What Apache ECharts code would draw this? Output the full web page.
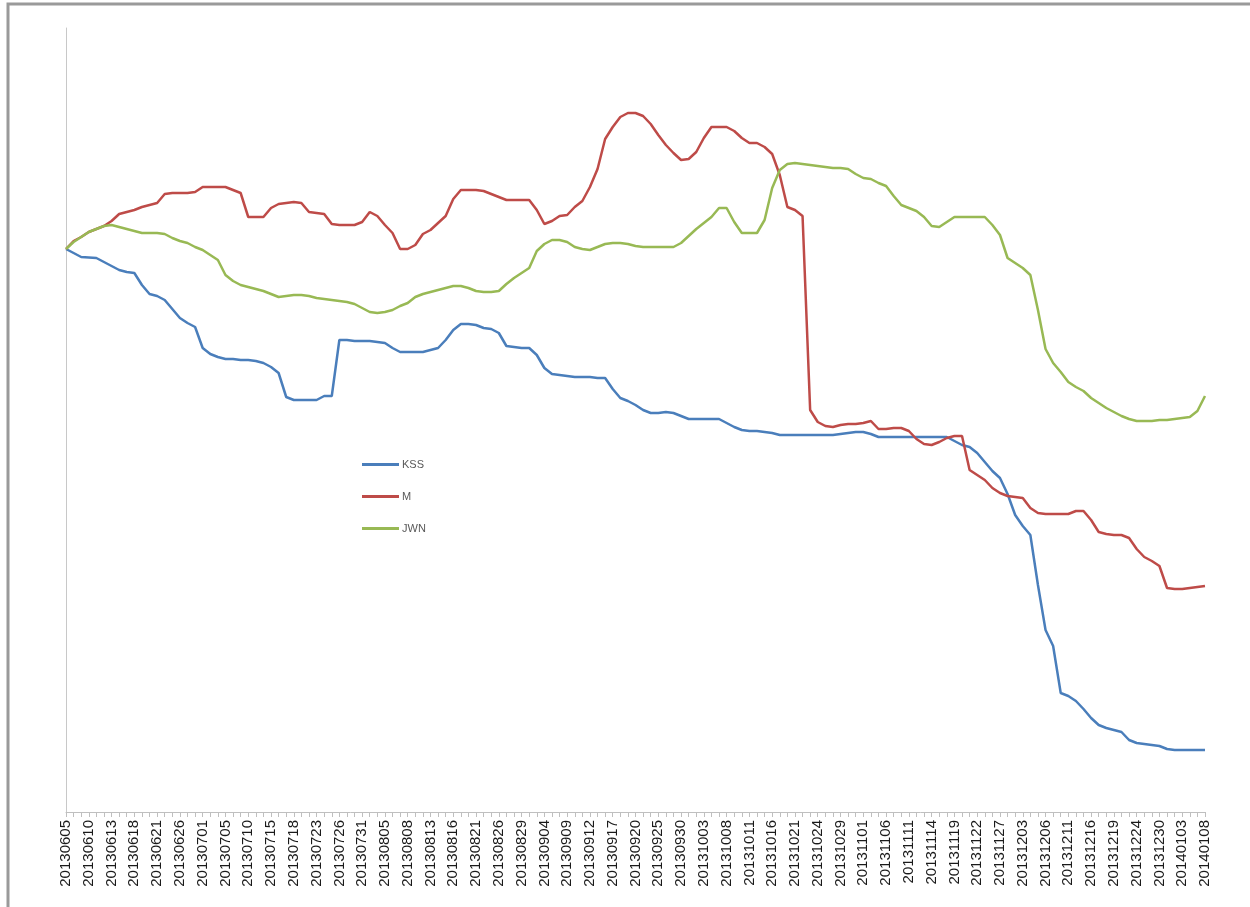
<!DOCTYPE html>
<html>
<head>
<meta charset="utf-8">
<script src="https://cdn.jsdelivr.net/npm/echarts@6/dist/echarts.min.js"></script>
<style>
  html, body { margin: 0; padding: 0; background: #ffffff; }
  #chart { width: 1250px; height: 907px; }
</style>
</head>
<body>
<div id="chart"></div>
<script>
// Trading days, 2013-06-05 .. 2014-01-08
const dates = [
  '20130605','20130606','20130607','20130610','20130611','20130612','20130613','20130614','20130617','20130618',
  '20130619','20130620','20130621','20130624','20130625','20130626','20130627','20130628','20130701','20130702',
  '20130703','20130705','20130708','20130709','20130710','20130711','20130712','20130715','20130716','20130717',
  '20130718','20130719','20130722','20130723','20130724','20130725','20130726','20130729','20130730','20130731',
  '20130801','20130802','20130805','20130806','20130807','20130808','20130809','20130812','20130813','20130814',
  '20130815','20130816','20130819','20130820','20130821','20130822','20130823','20130826','20130827','20130828',
  '20130829','20130830','20130903','20130904','20130905','20130906','20130909','20130910','20130911','20130912',
  '20130913','20130916','20130917','20130918','20130919','20130920','20130923','20130924','20130925','20130926',
  '20130927','20130930','20131001','20131002','20131003','20131004','20131007','20131008','20131009','20131010',
  '20131011','20131014','20131015','20131016','20131017','20131018','20131021','20131022','20131023','20131024',
  '20131025','20131028','20131029','20131030','20131031','20131101','20131104','20131105','20131106','20131107',
  '20131108','20131111','20131112','20131113','20131114','20131115','20131118','20131119','20131120','20131121',
  '20131122','20131125','20131126','20131127','20131129','20131202','20131203','20131204','20131205','20131206',
  '20131209','20131210','20131211','20131212','20131213','20131216','20131217','20131218','20131219','20131220',
  '20131223','20131224','20131226','20131227','20131230','20131231','20140102','20140103','20140106','20140107',
  '20140108'
];

// Relative price index, first day = 100
const kss = [
  100.00, 99.80, 99.60, 99.58, 99.55, 99.35, 99.15, 98.95, 98.85, 98.80,
  98.20, 97.75, 97.65, 97.45, 97.00, 96.55, 96.30, 96.10, 95.05, 94.75,
  94.60, 94.50, 94.50, 94.45, 94.45, 94.40, 94.30, 94.10, 93.80, 92.60,
  92.45, 92.45, 92.45, 92.45, 92.65, 92.65, 95.45, 95.45, 95.40, 95.40,
  95.40, 95.35, 95.30, 95.05, 94.85, 94.85, 94.85, 94.85, 94.95, 95.05,
  95.45, 95.95, 96.25, 96.25, 96.20, 96.05, 96.00, 95.80, 95.15, 95.10,
  95.05, 95.05, 94.70, 94.05, 93.75, 93.70, 93.65, 93.60, 93.60, 93.60,
  93.55, 93.55, 93.00, 92.55, 92.40, 92.20, 91.95, 91.80, 91.80, 91.85,
  91.80, 91.65, 91.50, 91.50, 91.50, 91.50, 91.50, 91.30, 91.10, 90.95,
  90.90, 90.90, 90.85, 90.80, 90.70, 90.70, 90.70, 90.70, 90.70, 90.70,
  90.70, 90.70, 90.75, 90.80, 90.85, 90.85, 90.75, 90.60, 90.60, 90.60,
  90.60, 90.60, 90.60, 90.60, 90.60, 90.60, 90.60, 90.40, 90.20, 90.10,
  89.80, 89.35, 88.90, 88.55, 87.75, 86.70, 86.15, 85.70, 83.20, 80.95,
  80.15, 77.80, 77.65, 77.40, 77.00, 76.55, 76.20, 76.05, 75.95, 75.85,
  75.45, 75.30, 75.25, 75.20, 75.15, 75.00, 74.95, 74.95, 74.95, 74.95,
  74.95
];

const m = [
  100.00, 100.40, 100.60, 100.85, 101.00, 101.15, 101.40, 101.75, 101.85, 101.95,
  102.10, 102.20, 102.30, 102.75, 102.80, 102.80, 102.80, 102.85, 103.10, 103.10,
  103.10, 103.10, 102.95, 102.80, 101.60, 101.60, 101.60, 102.05, 102.25, 102.30,
  102.35, 102.30, 101.85, 101.80, 101.75, 101.25, 101.20, 101.20, 101.20, 101.35,
  101.85, 101.65, 101.20, 100.80, 100.00, 100.00, 100.20, 100.75, 100.95, 101.30,
  101.65, 102.50, 102.95, 102.95, 102.95, 102.90, 102.75, 102.60, 102.45, 102.45,
  102.45, 102.45, 101.95, 101.25, 101.40, 101.65, 101.70, 102.10, 102.40, 103.10,
  104.00, 105.50, 106.10, 106.60, 106.80, 106.80, 106.65, 106.25, 105.70, 105.20,
  104.80, 104.45, 104.50, 104.85, 105.55, 106.10, 106.10, 106.10, 105.90, 105.55,
  105.30, 105.30, 105.10, 104.75, 103.70, 102.10, 101.95, 101.65, 91.95, 91.35,
  91.15, 91.10, 91.20, 91.25, 91.25, 91.30, 91.40, 91.00, 91.00, 91.05,
  91.05, 90.90, 90.50, 90.25, 90.20, 90.35, 90.55, 90.65, 90.65, 88.95,
  88.70, 88.45, 88.05, 87.80, 87.65, 87.60, 87.55, 87.05, 86.80, 86.75,
  86.75, 86.75, 86.75, 86.90, 86.90, 86.45, 85.85, 85.75, 85.70, 85.70,
  85.55, 85.00, 84.60, 84.40, 84.15, 83.05, 83.00, 83.00, 83.05, 83.10,
  83.15
];

const jwn = [
  100.00, 100.35, 100.60, 100.85, 101.00, 101.15, 101.20, 101.10, 101.00, 100.90,
  100.80, 100.80, 100.80, 100.75, 100.55, 100.40, 100.30, 100.10, 99.95, 99.70,
  99.45, 98.70, 98.40, 98.20, 98.10, 98.00, 97.90, 97.75, 97.60, 97.65,
  97.70, 97.70, 97.65, 97.55, 97.50, 97.45, 97.40, 97.35, 97.25, 97.05,
  96.85, 96.80, 96.85, 96.95, 97.15, 97.30, 97.60, 97.75, 97.85, 97.95,
  98.05, 98.15, 98.15, 98.05, 97.90, 97.85, 97.85, 97.90, 98.25, 98.55,
  98.80, 99.05, 99.90, 100.25, 100.45, 100.45, 100.35, 100.10, 100.00, 99.95,
  100.10, 100.25, 100.30, 100.30, 100.25, 100.15, 100.10, 100.10, 100.10, 100.10,
  100.10, 100.30, 100.65, 101.00, 101.30, 101.60, 102.05, 102.05, 101.35, 100.80,
  100.80, 100.80, 101.45, 103.05, 103.95, 104.25, 104.30, 104.25, 104.20, 104.15,
  104.10, 104.05, 104.05, 104.00, 103.75, 103.55, 103.50, 103.30, 103.15, 102.65,
  102.20, 102.05, 101.90, 101.60, 101.15, 101.10, 101.35, 101.60, 101.60, 101.60,
  101.60, 101.60, 101.20, 100.70, 99.55, 99.30, 99.05, 98.70, 96.95, 95.00,
  94.30, 93.85, 93.35, 93.10, 92.90, 92.55, 92.30, 92.05, 91.85, 91.65,
  91.50, 91.40, 91.40, 91.40, 91.45, 91.45, 91.50, 91.55, 91.60, 91.90,
  92.65
];

const seriesNames = ['KSS', 'M', 'JWN'];
const seriesColors = ['#4a7ebb', '#be4b48', '#98b954'];
const seriesData = [kss, m, jwn];

const chart = echarts.init(document.getElementById('chart'), null, { renderer: 'canvas' });

chart.setOption({
  backgroundColor: '#ffffff',
  animation: false,
  textStyle: { fontFamily: 'Liberation Sans, Arial, sans-serif' },
  graphic: [
    {
      type: 'rect',
      shape: { x: 8, y: 4, width: 1300, height: 1000 },
      style: { fill: 'none', stroke: '#9a9a9a', lineWidth: 3 },
      silent: true
    }
  ],
  grid: { left: 66, right: 45, top: 28, bottom: 95, containLabel: false },
  legend: {
    orient: 'vertical',
    left: 362,
    top: 459,
    padding: 0,
    itemGap: 21,
    itemWidth: 37,
    itemHeight: 3,
    icon: 'rect',
    data: seriesNames,
    textStyle: { color: '#595959', fontSize: 11, padding: [0, 0, 0, -2] }
  },
  xAxis: {
    type: 'category',
    data: dates,
    boundaryGap: false,
    axisLine: { show: true, lineStyle: { color: '#bfbfbf', width: 1 } },
    axisTick: { show: true, interval: 0, length: 5, lineStyle: { color: '#bfbfbf' } },
    axisLabel: {
      interval: 2,
      rotate: 90,
      color: '#1a1a1a',
      fontSize: 15,
      margin: 8
    },
    splitLine: { show: false }
  },
  yAxis: {
    type: 'value',
    min: 71.85,
    max: 111.05,
    axisLine: { show: true, lineStyle: { color: '#c8c8c8', width: 1 } },
    axisTick: { show: false },
    axisLabel: { show: false },
    splitLine: { show: false }
  },
  series: seriesNames.map((name, k) => ({
    name: name,
    type: 'line',
    data: seriesData[k],
    symbol: 'none',
    smooth: false,
    lineStyle: { color: seriesColors[k], width: 2.5 },
    itemStyle: { color: seriesColors[k] }
  }))
});
</script>
</body>
</html>
